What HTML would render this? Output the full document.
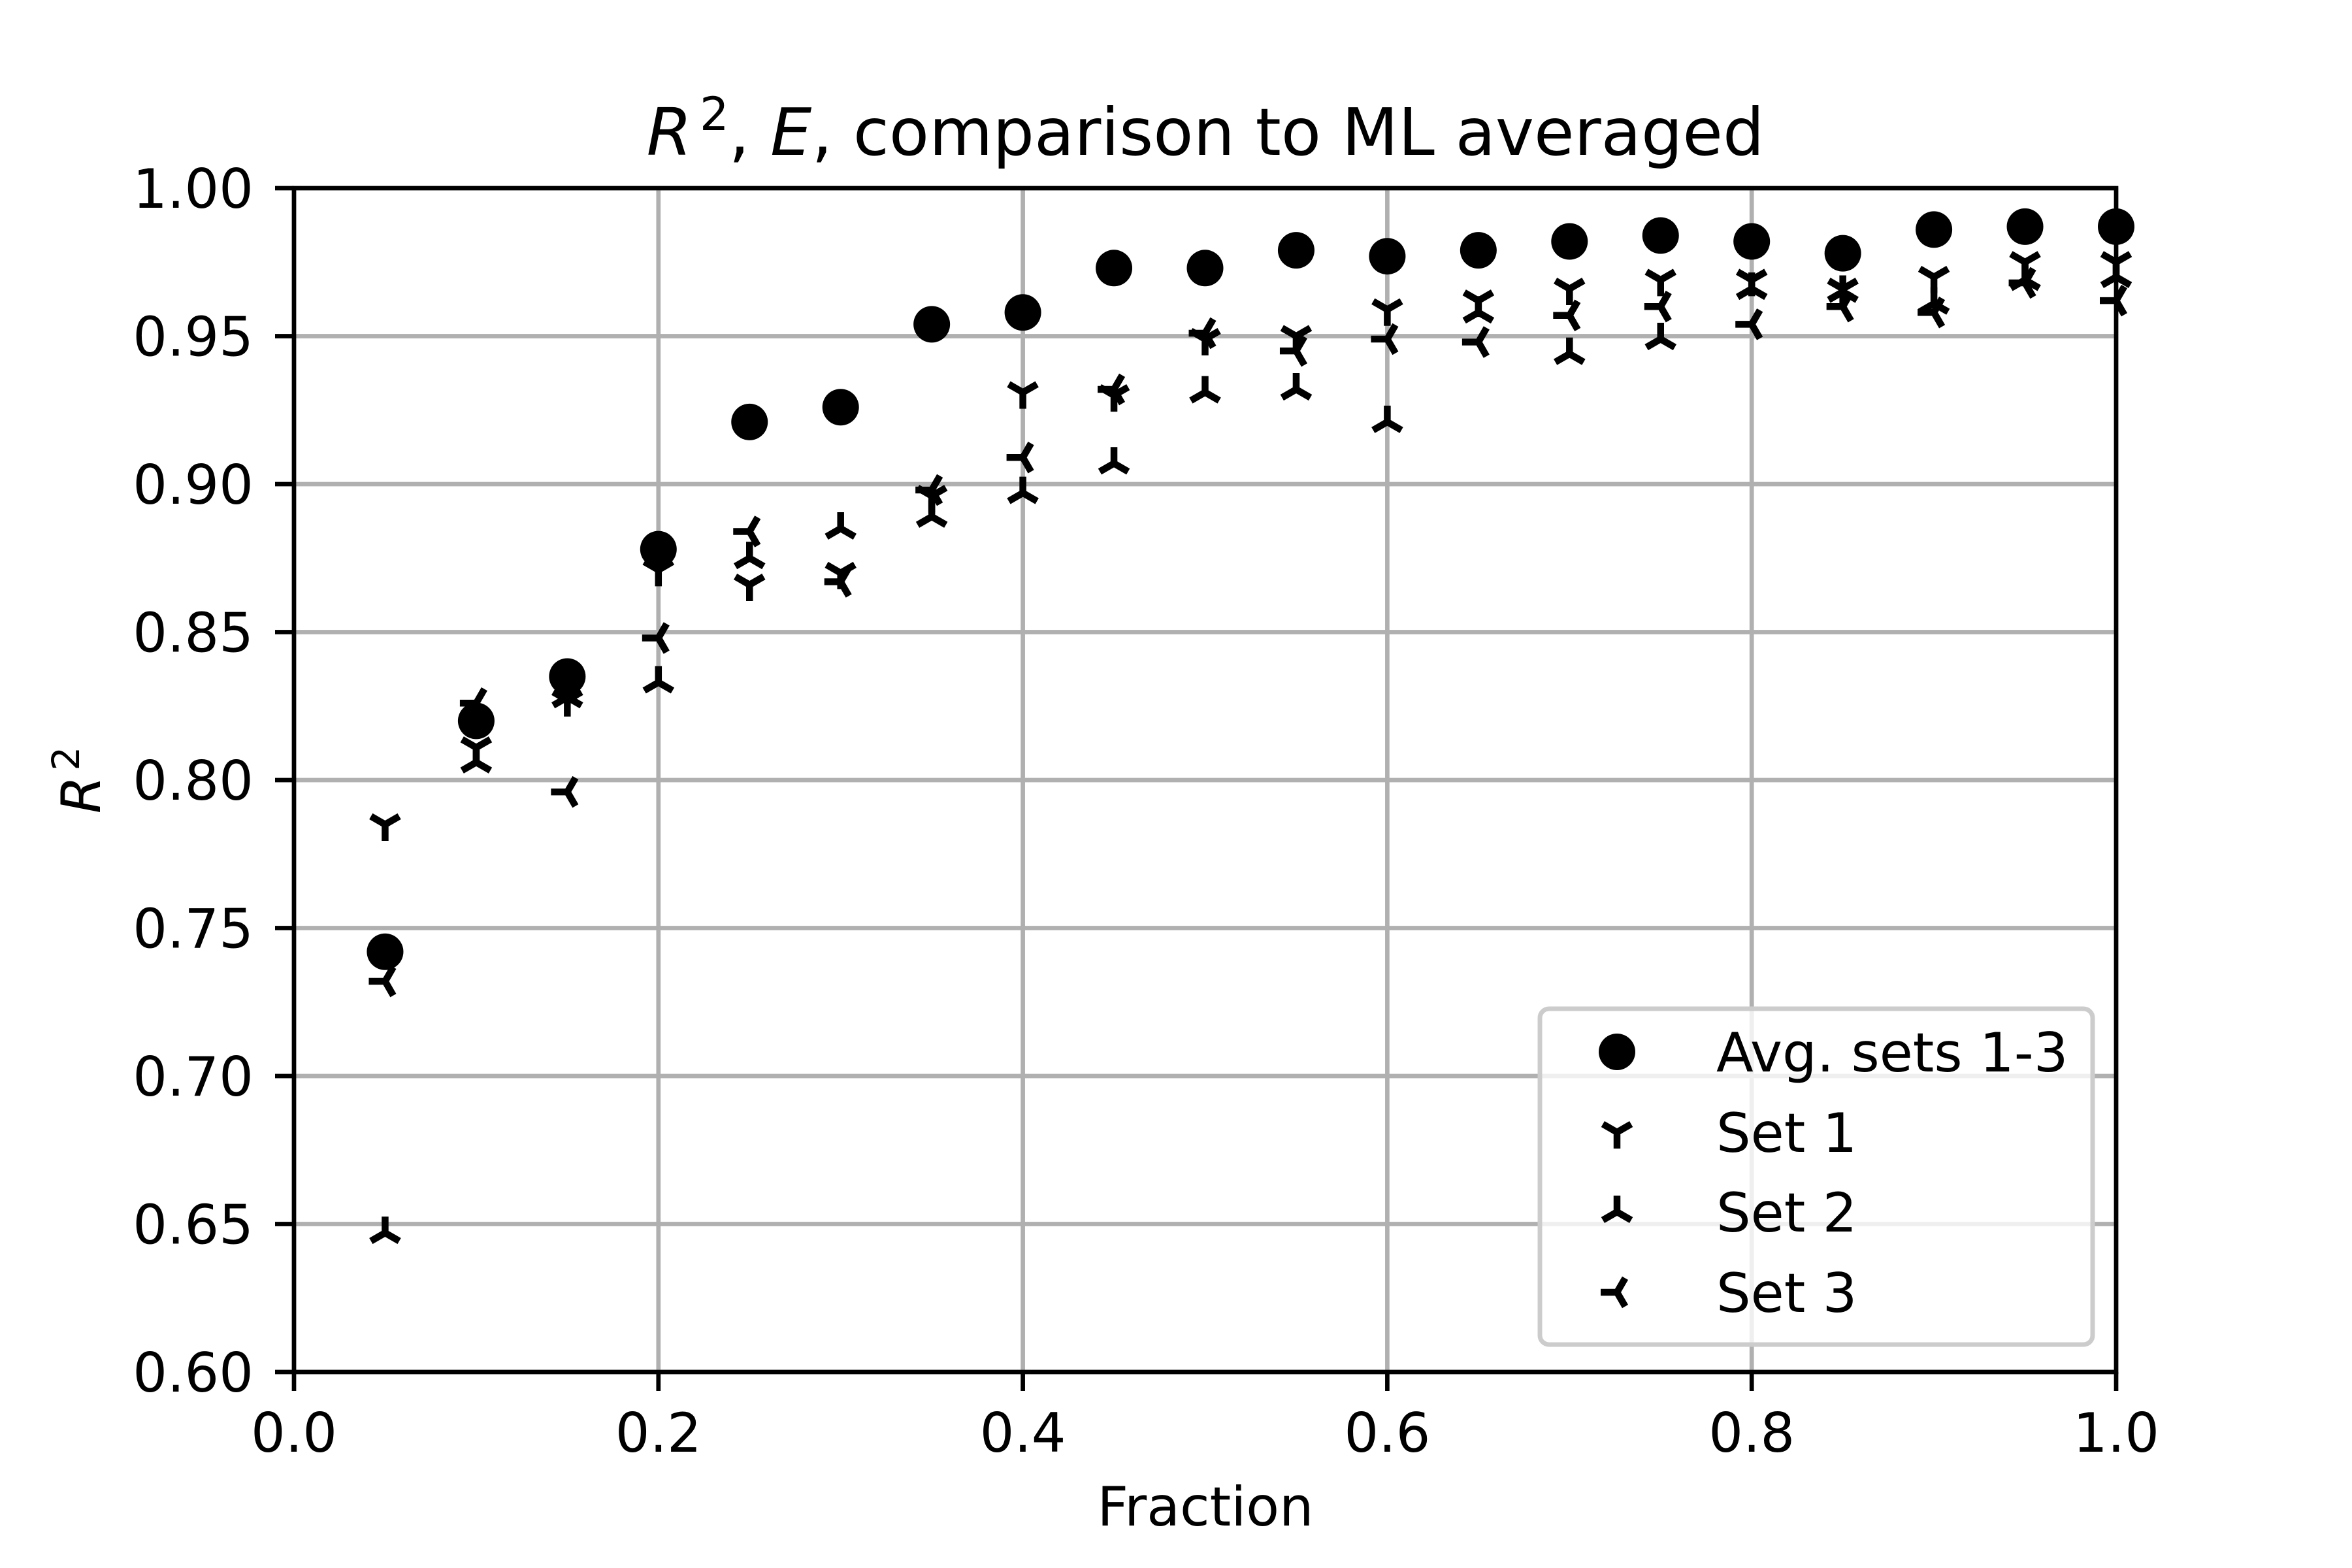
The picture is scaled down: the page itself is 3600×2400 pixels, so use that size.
<!DOCTYPE html>
<html><head><meta charset="utf-8">
<style>
html,body{margin:0;padding:0;background:#fff;}
svg{display:block;font-family:"DejaVu Sans","Liberation Sans",sans-serif;}
</style></head>
<body>
<svg id="chart" width="3600" height="2400" viewBox="0 0 3600 2400" xmlns="http://www.w3.org/2000/svg">
<rect x="0" y="0" width="3600" height="2400" fill="#fff"/>
<g id="grid"></g>
<g id="marks"></g>
<g id="axes"></g>
<text x="1845" y="237" font-size="100" text-anchor="middle"><tspan font-style="italic">R</tspan><tspan font-size="70" dx="12" dy="-38">2</tspan><tspan dy="38">, </tspan><tspan font-style="italic">E</tspan><tspan>, comparison to ML averaged</tspan></text>
<text x="1845" y="2335" font-size="83" text-anchor="middle">Fraction</text>
<text transform="translate(153,1194) rotate(-90)" font-size="83" text-anchor="middle"><tspan font-style="italic">R</tspan><tspan font-size="58" dx="8" dy="-32">2</tspan></text>
<g id="legend"></g>
</svg>
<script>
const fractions = [0.05,0.10,0.15,0.20,0.25,0.30,0.35,0.40,0.45,0.50,0.55,0.60,0.65,0.70,0.75,0.80,0.85,0.90,0.95,1.00];
const avgValues = [0.742,0.820,0.835,0.878,0.921,0.926,0.954,0.958,0.973,0.973,0.979,0.977,0.979,0.982,0.984,0.982,0.978,0.986,0.987,0.987];
const set1Values = [0.785,0.811,0.827,0.871,0.866,0.870,0.896,0.931,0.930,0.949,0.950,0.959,0.962,0.966,0.969,0.969,0.966,0.970,0.975,0.975];
const set2Values = [0.647,0.806,0.828,0.833,0.875,0.885,0.889,0.897,0.907,0.931,0.932,0.921,0.958,0.944,0.949,0.966,0.965,0.961,0.969,0.970];
const set3Values = [0.732,0.826,0.796,0.848,0.884,0.867,0.898,0.909,0.932,0.951,0.945,0.949,0.948,0.957,0.960,0.954,0.960,0.958,0.968,0.962];
const xTicks = [0.0,0.2,0.4,0.6,0.8,1.0];
const xTickLabels = ["0.0","0.2","0.4","0.6","0.8","1.0"];
const yTicks = [0.60,0.65,0.70,0.75,0.80,0.85,0.90,0.95,1.00];
const yTickLabels = ["0.60","0.65","0.70","0.75","0.80","0.85","0.90","0.95","1.00"];
const legendLabels = ["Avg. sets 1-3","Set 1","Set 2","Set 3"];

const NS="http://www.w3.org/2000/svg";
const L=450,R=3239,T=288,B=2100;
const xMin=0,xMax=1,yMin=0.6,yMax=1.0;
function sx(v){return L+(v-xMin)/(xMax-xMin)*(R-L);}
function sy(v){return B-(v-yMin)/(yMax-yMin)*(B-T);}
function mk(tag,attrs,parent){const e=document.createElementNS(NS,tag);for(const k in attrs)e.setAttribute(k,attrs[k]);parent.appendChild(e);return e;}
const grid=document.getElementById('grid'),marks=document.getElementById('marks'),axes=document.getElementById('axes'),legend=document.getElementById('legend');

xTicks.forEach((t,i)=>{
  const g=mk('line',{x1:sx(t),x2:sx(t),y1:T,y2:B,stroke:'#b0b0b0','stroke-width':6.7},grid);
  
  
  const tk=mk('line',{x1:sx(t),x2:sx(t),y1:B,y2:B+29,stroke:'#000','stroke-width':6.7},axes);
  
  
  const tx=mk('text',{x:sx(t),y:2222,'font-size':83,'text-anchor':'middle'},axes);
  tx.textContent=xTickLabels[i];
  
  
});
yTicks.forEach((t,i)=>{
  const g=mk('line',{x1:L,x2:R,y1:sy(t),y2:sy(t),stroke:'#b0b0b0','stroke-width':6.7},grid);
  
  
  const tk=mk('line',{x1:L-29,x2:L,y1:sy(t),y2:sy(t),stroke:'#000','stroke-width':6.7},axes);
  
  
  const tx=mk('text',{x:388,y:sy(t)+30,'font-size':83,'text-anchor':'end'},axes);
  tx.textContent=yTickLabels[i];
  
  
});
const frame=mk('rect',{x:L,y:T,width:R-L,height:B-T,fill:'none',stroke:'#000','stroke-width':6.7,'stroke-linejoin':'miter'},axes);



const r=25;
function triPath(type,cx,cy){
  const a=0.866*r,h=0.5*r;
  if(type==='down')return `M${cx},${cy}L${cx},${cy+r}M${cx},${cy}L${cx-a},${cy-h}M${cx},${cy}L${cx+a},${cy-h}`;
  if(type==='up')return `M${cx},${cy}L${cx},${cy-r}M${cx},${cy}L${cx-a},${cy+h}M${cx},${cy}L${cx+a},${cy+h}`;
  return `M${cx},${cy}L${cx-r},${cy}M${cx},${cy}L${cx+h},${cy-a}M${cx},${cy}L${cx+h},${cy+a}`;
}
function circ(cx,cy,parent){return mk('ellipse',{cx:cx,cy:cy,rx:28,ry:28,fill:'#000'},parent);}
function tri(type,cx,cy,parent){return mk('path',{d:triPath(type,cx,cy),stroke:'#000','stroke-width':10.5,fill:'none','stroke-linecap':'butt'},parent);}

fractions.forEach((f,i)=>{
  const c=circ(sx(f),sy(avgValues[i]),marks);
  
  
});
fractions.forEach((f,i)=>{
  const p=tri('down',sx(f),sy(set1Values[i]),marks);
  
  
});
fractions.forEach((f,i)=>{
  const p=tri('up',sx(f),sy(set2Values[i]),marks);
  
  
});
fractions.forEach((f,i)=>{
  const p=tri('left',sx(f),sy(set3Values[i]),marks);
  
  
});

const box=mk('rect',{x:2357,y:1544,width:846,height:514,rx:14,ry:14,fill:'#fff','fill-opacity':0.8,stroke:'#cccccc','stroke-width':7},legend);


const rowY=[1610,1733,1855,1978];
const mtypes=['circle','down','up','left'];
legendLabels.forEach((lab,i)=>{
  let m;
  if(mtypes[i]==='circle')m=circ(2475,rowY[i],legend);else m=tri(mtypes[i],2475,rowY[i],legend);
  
  
  const t=mk('text',{x:2627,y:rowY[i]+30,'font-size':83},legend);
  t.textContent=lab;
  
  
});
</script>
</body></html>
